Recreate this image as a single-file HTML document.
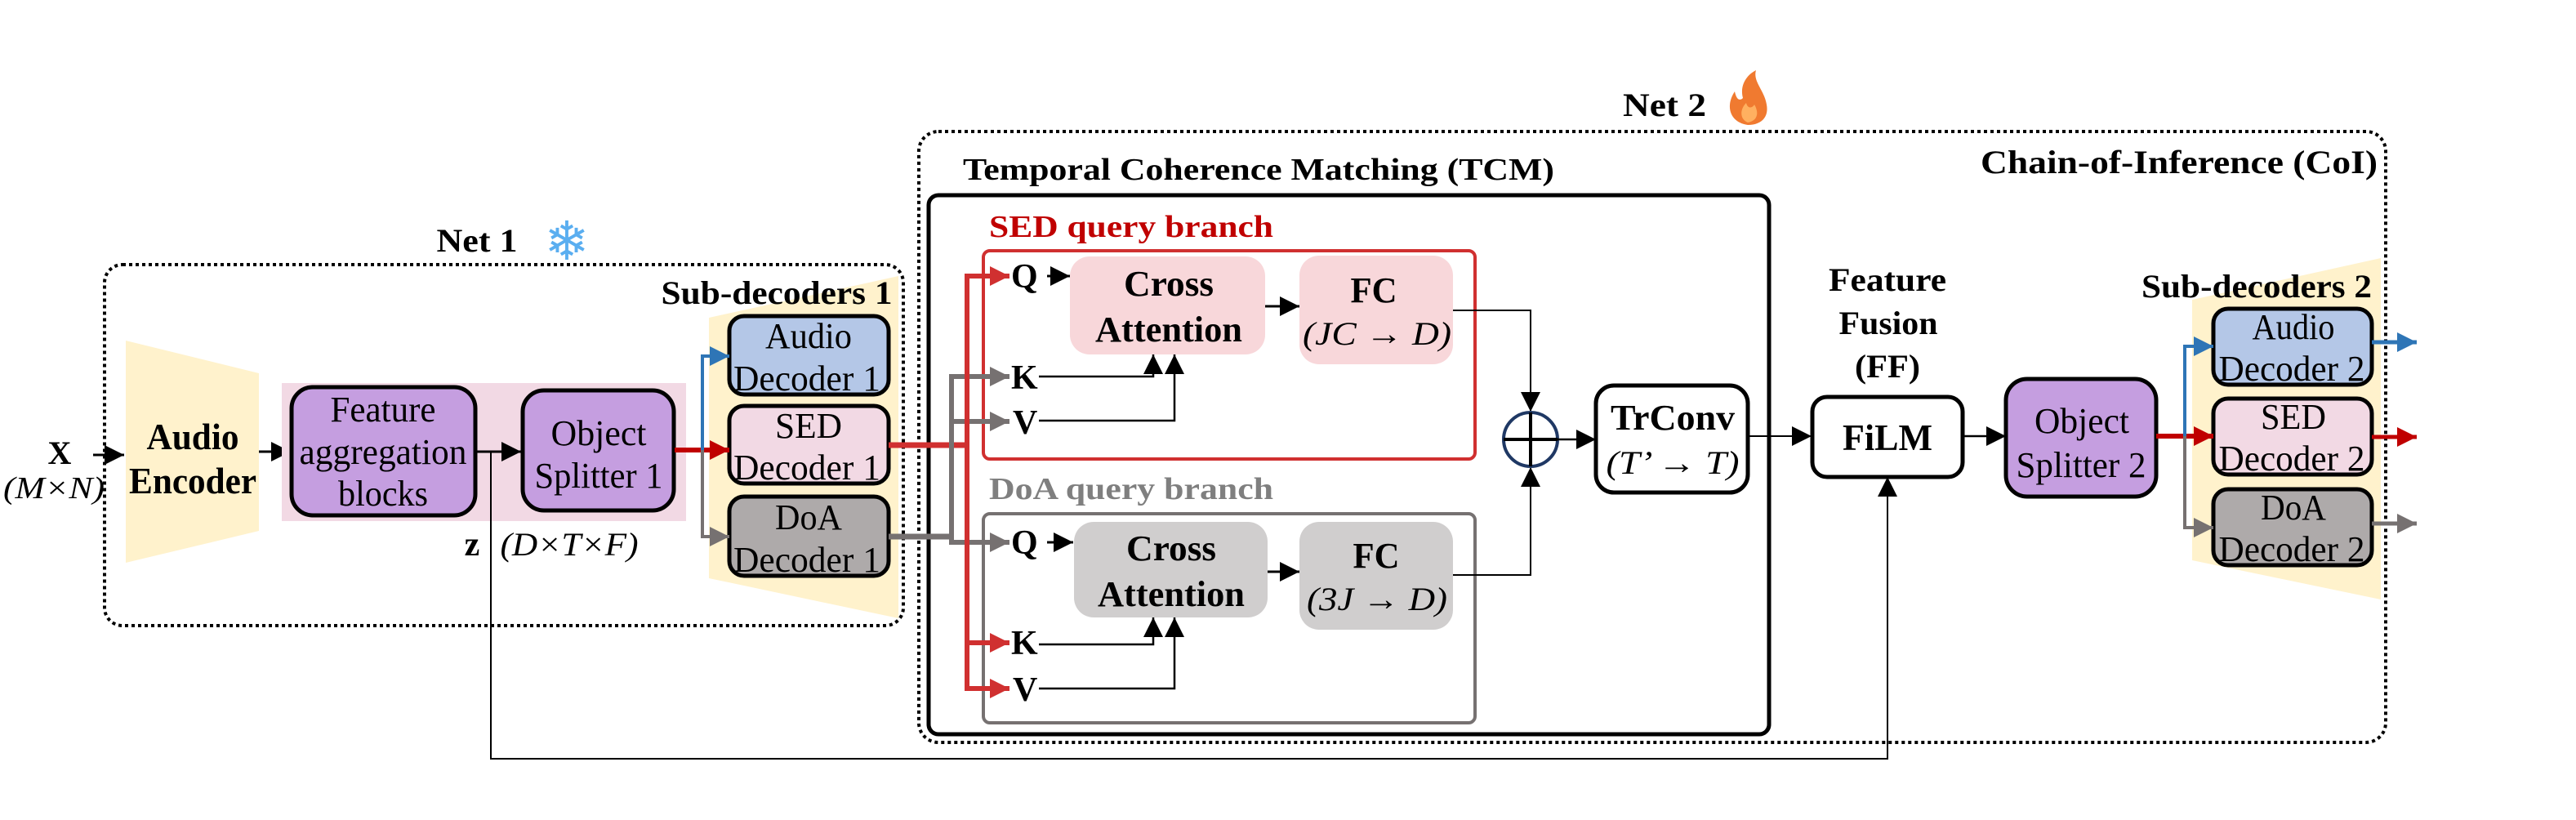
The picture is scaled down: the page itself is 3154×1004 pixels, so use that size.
<!DOCTYPE html>
<html><head><meta charset="utf-8"><style>html,body{margin:0;padding:0;background:#fff}svg{display:block}svg text{font-family:"Liberation Serif","DejaVu Serif",serif}svg text.sym{font-family:"DejaVu Sans",sans-serif}</style></head><body>
<svg width="3154" height="1004" viewBox="0 0 3154 1004" xmlns="http://www.w3.org/2000/svg">
<defs>
<marker id="ab" viewBox="0 0 10 10" refX="10" refY="5" markerWidth="24" markerHeight="28" markerUnits="userSpaceOnUse" orient="auto"><path d="M0,0L10,5L0,10z" fill="#000"/></marker>
<marker id="ar" viewBox="0 0 10 10" refX="10" refY="5" markerWidth="24" markerHeight="30" markerUnits="userSpaceOnUse" orient="auto"><path d="M0,0L10,5L0,10z" fill="#c00000"/></marker>
<marker id="ar2" viewBox="0 0 10 10" refX="10" refY="5" markerWidth="24" markerHeight="30" markerUnits="userSpaceOnUse" orient="auto"><path d="M0,0L10,5L0,10z" fill="#d03030"/></marker>
<marker id="abl" viewBox="0 0 10 10" refX="10" refY="5" markerWidth="24" markerHeight="30" markerUnits="userSpaceOnUse" orient="auto"><path d="M0,0L10,5L0,10z" fill="#2e75b6"/></marker>
<marker id="ag" viewBox="0 0 10 10" refX="10" refY="5" markerWidth="24" markerHeight="30" markerUnits="userSpaceOnUse" orient="auto"><path d="M0,0L10,5L0,10z" fill="#767171"/></marker>
</defs>

<!-- Net 1 -->
<rect x="128" y="324" width="978" height="442" rx="22" fill="none" stroke="#000" stroke-width="4" stroke-dasharray="4 4"/>
<text x="584" y="308" font-size="40" font-weight="bold" text-anchor="middle" textLength="99" lengthAdjust="spacingAndGlyphs">Net 1</text>
<text class="sym" x="694" y="318" font-size="66" fill="#5aaef0" text-anchor="middle">❄</text>

<polygon points="154,417 317,457 317,650 154,689" fill="#fff2cc"/>
<text x="236" y="550" font-size="46" font-weight="bold" text-anchor="middle" textLength="113" lengthAdjust="spacingAndGlyphs">Audio</text>
<text x="236" y="604" font-size="46" font-weight="bold" text-anchor="middle" textLength="156" lengthAdjust="spacingAndGlyphs">Encoder</text>

<text x="73" y="568" font-size="40" font-weight="bold" text-anchor="middle">X</text>
<text x="66" y="610" font-size="38" font-style="italic" text-anchor="middle" textLength="124" lengthAdjust="spacingAndGlyphs">(M×N)</text>
<line x1="114" y1="557" x2="152" y2="557" stroke="#000" stroke-width="3" marker-end="url(#ab)"/>
<line x1="317" y1="553" x2="356" y2="553" stroke="#000" stroke-width="3" marker-end="url(#ab)"/>

<rect x="345" y="469" width="495" height="169" fill="#f2d9e4"/>
<rect x="357" y="474" width="225" height="157" rx="26" fill="#c59ee0" stroke="#000" stroke-width="5"/>
<text x="469" y="516" font-size="44" text-anchor="middle" textLength="129" lengthAdjust="spacingAndGlyphs">Feature</text>
<text x="469" y="568" font-size="44" text-anchor="middle" textLength="205" lengthAdjust="spacingAndGlyphs">aggregation</text>
<text x="469" y="619" font-size="44" text-anchor="middle" textLength="110" lengthAdjust="spacingAndGlyphs">blocks</text>
<rect x="640" y="478" width="185" height="147" rx="26" fill="#c59ee0" stroke="#000" stroke-width="5"/>
<text x="733" y="545" font-size="44" text-anchor="middle" textLength="117" lengthAdjust="spacingAndGlyphs">Object</text>
<text x="733" y="597" font-size="44" text-anchor="middle" textLength="157" lengthAdjust="spacingAndGlyphs">Splitter 1</text>
<line x1="582" y1="553" x2="638" y2="553" stroke="#000" stroke-width="3" marker-end="url(#ab)"/>
<text x="578" y="680" font-size="42" font-weight="bold" text-anchor="middle">z</text>
<text x="697" y="680" font-size="40" font-style="italic" text-anchor="middle" textLength="169" lengthAdjust="spacingAndGlyphs">(D×T×F)</text>

<!-- Sub-decoders 1 -->
<polygon points="868,389 1100,338 1100,757 868,708" fill="#fff2cc"/>
<text x="951" y="372" font-size="40" font-weight="bold" text-anchor="middle" textLength="283" lengthAdjust="spacingAndGlyphs">Sub-decoders 1</text>
<rect x="893" y="387" width="195" height="96" rx="18" fill="#b4c7e7" stroke="#000" stroke-width="5"/>
<text x="990" y="426" font-size="44" text-anchor="middle" textLength="106" lengthAdjust="spacingAndGlyphs">Audio</text>
<text x="988" y="478" font-size="44" text-anchor="middle" textLength="180" lengthAdjust="spacingAndGlyphs">Decoder 1</text>
<rect x="893" y="497" width="195" height="95" rx="18" fill="#f2d9e4" stroke="#000" stroke-width="5"/>
<text x="990" y="536" font-size="44" text-anchor="middle" textLength="82" lengthAdjust="spacingAndGlyphs">SED</text>
<text x="988" y="587" font-size="44" text-anchor="middle" textLength="180" lengthAdjust="spacingAndGlyphs">Decoder 1</text>
<rect x="893" y="608" width="195" height="97" rx="18" fill="#aeaaaa" stroke="#000" stroke-width="5"/>
<text x="990" y="648" font-size="44" text-anchor="middle" textLength="82" lengthAdjust="spacingAndGlyphs">DoA</text>
<text x="988" y="700" font-size="44" text-anchor="middle" textLength="180" lengthAdjust="spacingAndGlyphs">Decoder 1</text>

<line x1="826" y1="551" x2="893" y2="551" stroke="#c00000" stroke-width="6" marker-end="url(#ar)"/>
<polyline points="860,551 860,436 893,436" fill="none" stroke="#2e75b6" stroke-width="4" marker-end="url(#abl)"/>
<polyline points="860,551 860,657 893,657" fill="none" stroke="#767171" stroke-width="4" marker-end="url(#ag)"/>

<polyline points="601,553 601,929 2311,929 2311,584" fill="none" stroke="#000" stroke-width="2" marker-end="url(#ab)"/>

<!-- Net 2 -->
<rect x="1125" y="161" width="1796" height="748" rx="24" fill="none" stroke="#000" stroke-width="4" stroke-dasharray="4 4"/>
<text x="2038" y="142" font-size="40" font-weight="bold" text-anchor="middle" textLength="102" lengthAdjust="spacingAndGlyphs">Net 2</text>
<path d="M2140,153 C2118,150 2112,130 2124,112 C2126,122 2130,124 2134,120 C2130,105 2138,92 2150,86 C2146,100 2160,110 2163,128 C2166,144 2156,153 2140,153 Z" fill="#f07a30"/>
<path d="M2140,150 C2130,146 2130,134 2138,126 C2140,134 2146,132 2148,128 C2154,138 2152,148 2140,150 Z" fill="#ffb060"/>
<text x="2668" y="212" font-size="40" font-weight="bold" text-anchor="middle" textLength="486" lengthAdjust="spacingAndGlyphs">Chain-of-Inference (CoI)</text>

<text x="1541" y="220" font-size="38" font-weight="bold" text-anchor="middle" textLength="724" lengthAdjust="spacingAndGlyphs">Temporal Coherence Matching (TCM)</text>
<rect x="1137" y="239" width="1029" height="660" rx="12" fill="none" stroke="#000" stroke-width="5"/>

<text x="1211" y="290" font-size="38" font-weight="bold" fill="#c00000" textLength="348" lengthAdjust="spacingAndGlyphs">SED query branch</text>
<rect x="1204" y="307" width="602" height="255" rx="8" fill="none" stroke="#d03030" stroke-width="4"/>
<text x="1211" y="611" font-size="38" font-weight="bold" fill="#7f7f7f" textLength="348" lengthAdjust="spacingAndGlyphs">DoA query branch</text>
<rect x="1204" y="629" width="602" height="256" rx="8" fill="none" stroke="#767171" stroke-width="4"/>

<line x1="1088" y1="545" x2="1184" y2="545" stroke="#d03030" stroke-width="7"/>
<line x1="1088" y1="657" x2="1165" y2="657" stroke="#767171" stroke-width="7"/>
<polyline points="1165,657 1165,664 1236,664" fill="none" stroke="#767171" stroke-width="6" marker-end="url(#ag)"/>
<polyline points="1165,664 1165,461 1236,461" fill="none" stroke="#767171" stroke-width="6" marker-end="url(#ag)"/>
<line x1="1165" y1="516" x2="1236" y2="516" stroke="#767171" stroke-width="6" marker-end="url(#ag)"/>
<polyline points="1184,545 1184,338 1236,338" fill="none" stroke="#d03030" stroke-width="6" marker-end="url(#ar2)"/>
<polyline points="1184,545 1184,843 1236,843" fill="none" stroke="#d03030" stroke-width="6" marker-end="url(#ar2)"/>
<line x1="1184" y1="787" x2="1236" y2="787" stroke="#d03030" stroke-width="6" marker-end="url(#ar2)"/>

<g font-size="42" font-weight="bold">
<text x="1238" y="352">Q</text><text x="1238" y="476">K</text><text x="1240" y="531">V</text>
<text x="1238" y="678">Q</text><text x="1238" y="801">K</text><text x="1240" y="858">V</text>
</g>

<rect x="1310" y="314" width="239" height="120" rx="24" fill="#f8d7da"/>
<text x="1431" y="362" font-size="44" font-weight="bold" text-anchor="middle" textLength="110" lengthAdjust="spacingAndGlyphs">Cross</text>
<text x="1431" y="418" font-size="44" font-weight="bold" text-anchor="middle" textLength="180" lengthAdjust="spacingAndGlyphs">Attention</text>
<rect x="1591" y="313" width="188" height="133" rx="24" fill="#f8d7da"/>
<text x="1682" y="370" font-size="44" font-weight="bold" text-anchor="middle" textLength="57" lengthAdjust="spacingAndGlyphs">FC</text>
<text x="1686" y="422" font-size="40" font-style="italic" text-anchor="middle" textLength="182" lengthAdjust="spacingAndGlyphs">(JC → D)</text>
<line x1="1282" y1="338" x2="1310" y2="338" stroke="#000" stroke-width="3" marker-end="url(#ab)"/>
<line x1="1549" y1="375" x2="1591" y2="375" stroke="#000" stroke-width="3" marker-end="url(#ab)"/>
<polyline points="1272,461 1412,461 1412,434" fill="none" stroke="#000" stroke-width="2.5" marker-end="url(#ab)"/>
<polyline points="1272,515 1438,515 1438,434" fill="none" stroke="#000" stroke-width="2.5" marker-end="url(#ab)"/>
<polyline points="1779,380 1874,380 1874,504" fill="none" stroke="#000" stroke-width="2" marker-end="url(#ab)"/>

<rect x="1315" y="639" width="237" height="117" rx="24" fill="#d0cece"/>
<text x="1434" y="686" font-size="44" font-weight="bold" text-anchor="middle" textLength="110" lengthAdjust="spacingAndGlyphs">Cross</text>
<text x="1434" y="742" font-size="44" font-weight="bold" text-anchor="middle" textLength="180" lengthAdjust="spacingAndGlyphs">Attention</text>
<rect x="1591" y="639" width="188" height="132" rx="24" fill="#d0cece"/>
<text x="1685" y="695" font-size="44" font-weight="bold" text-anchor="middle" textLength="57" lengthAdjust="spacingAndGlyphs">FC</text>
<text x="1686" y="747" font-size="40" font-style="italic" text-anchor="middle" textLength="172" lengthAdjust="spacingAndGlyphs">(3J → D)</text>
<line x1="1282" y1="664" x2="1314" y2="664" stroke="#000" stroke-width="3" marker-end="url(#ab)"/>
<line x1="1552" y1="700" x2="1591" y2="700" stroke="#000" stroke-width="3" marker-end="url(#ab)"/>
<polyline points="1272,789 1412,789 1412,756" fill="none" stroke="#000" stroke-width="2.5" marker-end="url(#ab)"/>
<polyline points="1272,843 1438,843 1438,756" fill="none" stroke="#000" stroke-width="2.5" marker-end="url(#ab)"/>
<polyline points="1779,704 1874,704 1874,572" fill="none" stroke="#000" stroke-width="2" marker-end="url(#ab)"/>

<ellipse cx="1874" cy="538" rx="33" ry="33" fill="#fff" stroke="#1f3864" stroke-width="4"/>
<line x1="1841" y1="538" x2="1907" y2="538" stroke="#000" stroke-width="4"/>
<line x1="1874" y1="505" x2="1874" y2="571" stroke="#000" stroke-width="4"/>
<line x1="1907" y1="538" x2="1954" y2="538" stroke="#000" stroke-width="2.5" marker-end="url(#ab)"/>

<rect x="1954" y="472" width="186" height="131" rx="22" fill="#fff" stroke="#000" stroke-width="5"/>
<text x="2048" y="526" font-size="44" font-weight="bold" text-anchor="middle" textLength="152" lengthAdjust="spacingAndGlyphs">TrConv</text>
<text x="2048" y="580" font-size="40" font-style="italic" text-anchor="middle" textLength="163" lengthAdjust="spacingAndGlyphs">(T’ → T)</text>

<line x1="2140" y1="534" x2="2218" y2="534" stroke="#000" stroke-width="2" marker-end="url(#ab)"/>

<text x="2311" y="356" font-size="40" font-weight="bold" text-anchor="middle" textLength="144" lengthAdjust="spacingAndGlyphs">Feature</text>
<text x="2312" y="409" font-size="40" font-weight="bold" text-anchor="middle" textLength="121" lengthAdjust="spacingAndGlyphs">Fusion</text>
<text x="2311" y="462" font-size="40" font-weight="bold" text-anchor="middle" textLength="80" lengthAdjust="spacingAndGlyphs">(FF)</text>
<rect x="2219" y="486" width="184" height="98" rx="18" fill="#fff" stroke="#000" stroke-width="5"/>
<text x="2311" y="551" font-size="46" font-weight="bold" text-anchor="middle" textLength="110" lengthAdjust="spacingAndGlyphs">FiLM</text>
<line x1="2403" y1="534" x2="2456" y2="534" stroke="#000" stroke-width="2.5" marker-end="url(#ab)"/>

<rect x="2456" y="464" width="184" height="144" rx="26" fill="#c59ee0" stroke="#000" stroke-width="5"/>
<text x="2549" y="530" font-size="44" text-anchor="middle" textLength="116" lengthAdjust="spacingAndGlyphs">Object</text>
<text x="2548" y="584" font-size="44" text-anchor="middle" textLength="159" lengthAdjust="spacingAndGlyphs">Splitter 2</text>

<polygon points="2684,367 2915,316 2915,734 2684,686" fill="#fff2cc"/>
<text x="2763" y="364" font-size="40" font-weight="bold" text-anchor="middle" textLength="282" lengthAdjust="spacingAndGlyphs">Sub-decoders 2</text>
<rect x="2710" y="378" width="194" height="93" rx="18" fill="#b4c7e7" stroke="#000" stroke-width="5"/>
<text x="2808" y="415" font-size="44" text-anchor="middle" textLength="101" lengthAdjust="spacingAndGlyphs">Audio</text>
<text x="2806" y="466" font-size="44" text-anchor="middle" textLength="179" lengthAdjust="spacingAndGlyphs">Decoder 2</text>
<rect x="2710" y="488" width="194" height="93" rx="18" fill="#f2d9e4" stroke="#000" stroke-width="5"/>
<text x="2808" y="525" font-size="44" text-anchor="middle" textLength="80" lengthAdjust="spacingAndGlyphs">SED</text>
<text x="2806" y="576" font-size="44" text-anchor="middle" textLength="179" lengthAdjust="spacingAndGlyphs">Decoder 2</text>
<rect x="2710" y="599" width="194" height="93" rx="18" fill="#aeaaaa" stroke="#000" stroke-width="5"/>
<text x="2808" y="636" font-size="44" text-anchor="middle" textLength="80" lengthAdjust="spacingAndGlyphs">DoA</text>
<text x="2806" y="687" font-size="44" text-anchor="middle" textLength="179" lengthAdjust="spacingAndGlyphs">Decoder 2</text>

<line x1="2640" y1="534" x2="2710" y2="534" stroke="#c00000" stroke-width="6" marker-end="url(#ar)"/>
<polyline points="2675,534 2675,424 2710,424" fill="none" stroke="#2e75b6" stroke-width="4" marker-end="url(#abl)"/>
<polyline points="2675,534 2675,646 2710,646" fill="none" stroke="#767171" stroke-width="4" marker-end="url(#ag)"/>

<line x1="2904" y1="419" x2="2959" y2="419" stroke="#2e75b6" stroke-width="5" marker-end="url(#abl)"/>
<line x1="2904" y1="535" x2="2959" y2="535" stroke="#c00000" stroke-width="5" marker-end="url(#ar)"/>
<line x1="2904" y1="641" x2="2959" y2="641" stroke="#767171" stroke-width="5" marker-end="url(#ag)"/>
</svg>
</body></html>
